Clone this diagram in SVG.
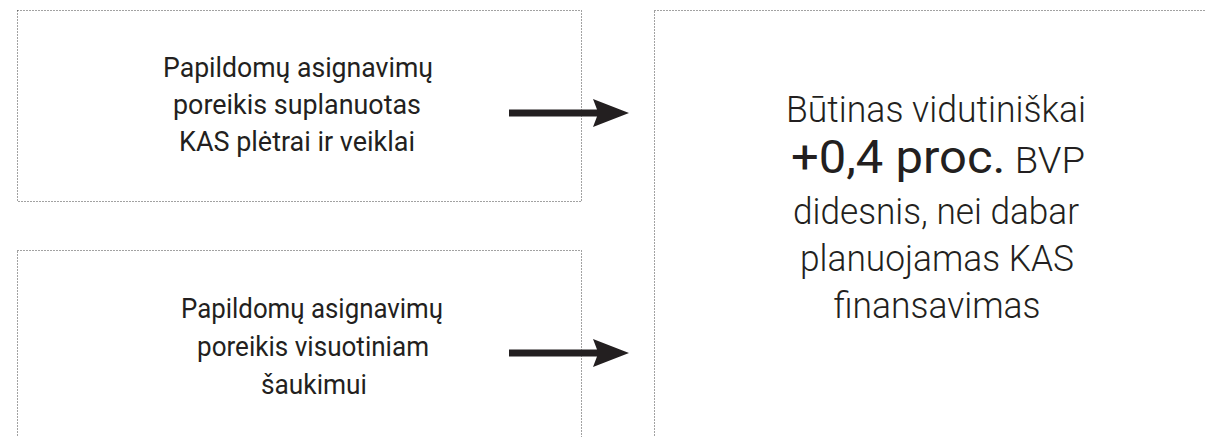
<svg xmlns="http://www.w3.org/2000/svg" width="1206" height="437" viewBox="0 0 1206 437">
<style>
.box{fill:none;stroke:#444;stroke-width:1;stroke-dasharray:1 2}
.t{font-family:Roboto,"Liberation Sans",sans-serif;font-size:28px;fill:#231f20;text-anchor:middle}
.b{font-family:Roboto,"Liberation Sans",sans-serif;font-size:36px;font-weight:300;fill:#231f20;text-anchor:middle}
.big{font-size:46px;font-weight:400}
.arr{fill:#231f20}
</style>
<rect width="1206" height="437" fill="#fff"/>
<g id="node-plan">
<rect class="box" x="17.5" y="10.5" width="564" height="191"/>
<text class="t" x="298" y="77" textLength="270" lengthAdjust="spacingAndGlyphs">Papildomų asignavimų</text>
<text class="t" x="297" y="114" textLength="248" lengthAdjust="spacingAndGlyphs">poreikis suplanuotas</text>
<text class="t" x="297" y="151" textLength="236" lengthAdjust="spacingAndGlyphs">KAS plėtrai ir veiklai</text>
</g>
<g id="node-saukimas">
<rect class="box" x="17.5" y="250.5" width="564" height="220"/>
<text class="t" x="312" y="318" textLength="262" lengthAdjust="spacingAndGlyphs">Papildomų asignavimų</text>
<text class="t" x="313" y="356" textLength="232" lengthAdjust="spacingAndGlyphs">poreikis visuotiniam</text>
<text class="t" x="314" y="394" textLength="106" lengthAdjust="spacingAndGlyphs">šaukimui</text>
</g>
<g id="node-result">
<rect class="box" x="654.5" y="10.5" width="600" height="460"/>
<text class="b" x="936" y="122" textLength="300" lengthAdjust="spacingAndGlyphs">Būtinas vidutiniškai</text>
<text class="b" x="938" y="173" textLength="294" lengthAdjust="spacingAndGlyphs"><tspan class="big">+0,4 proc.</tspan> BVP</text>
<text class="b" x="936" y="224" textLength="286" lengthAdjust="spacingAndGlyphs">didesnis, nei dabar</text>
<text class="b" x="937" y="271" textLength="274" lengthAdjust="spacingAndGlyphs">planuojamas KAS</text>
<text class="b" x="937" y="318" textLength="207" lengthAdjust="spacingAndGlyphs">finansavimas</text>
</g>
<g id="connectors">
<path class="arr" d="M509,109.5 H597 L593,99 L629,113 L593,127 L597,116.5 H509 Z"/>
<path class="arr" d="M509,349.5 H597 L593,339 L629,353 L593,367 L597,356.5 H509 Z"/>
</g>
</svg>
